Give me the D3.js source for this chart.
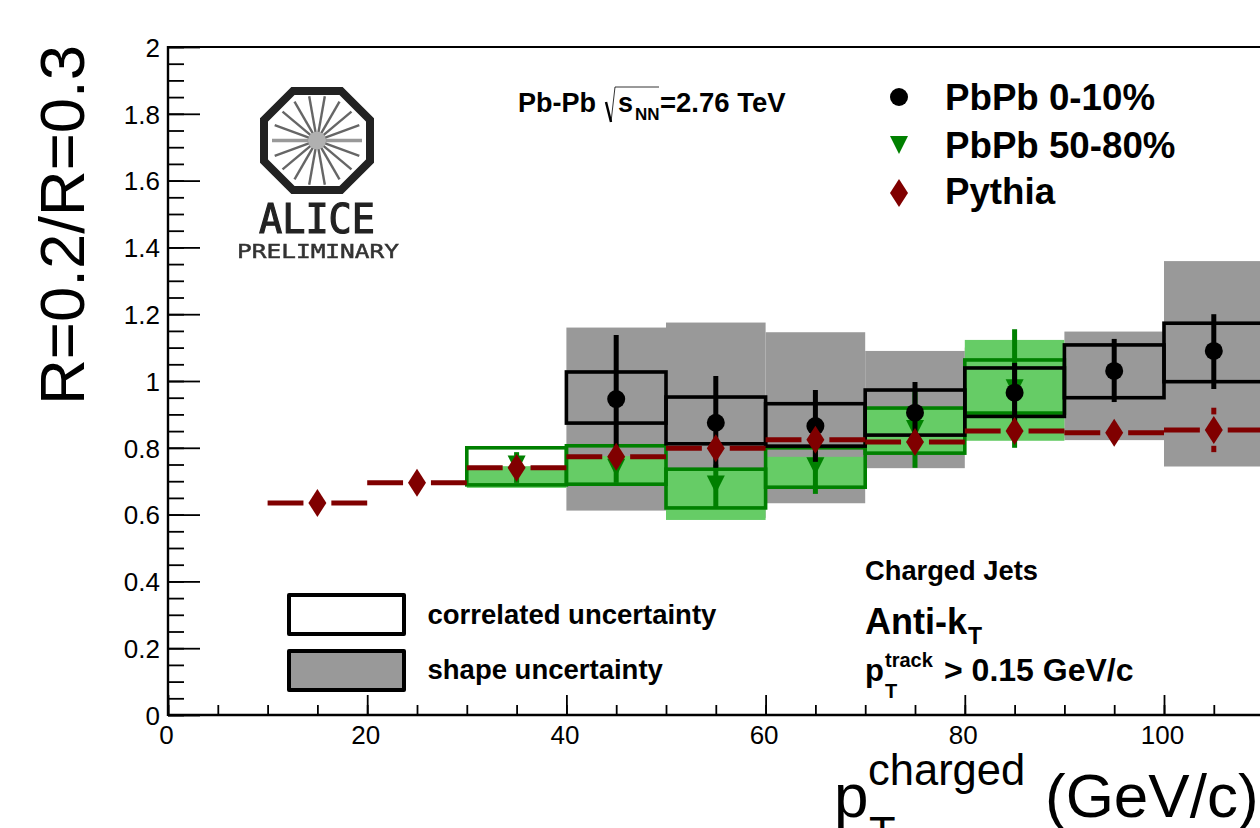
<!DOCTYPE html>
<html>
<head>
<meta charset="utf-8">
<script src="https://cdn.jsdelivr.net/npm/d3@7"></script>
<style>
  html, body { margin: 0; padding: 0; background: #fff; overflow: hidden; }
  text { font-family: "Liberation Sans", Arial, sans-serif; fill: #000; }
  .bold { font-weight: bold; }
</style>
</head>
<body>
<div id="chart"></div>
<script>
// R=0.2/R=0.3 values
const yTicks = [0, 0.2, 0.4, 0.6, 0.8, 1, 1.2, 1.4, 1.6, 1.8, 2];
const xTicks = [0, 20, 40, 60, 80, 100];

// PbPb 0-10%
const centralPt = [45, 55, 65, 75, 85, 95, 105];
const centralVal = [0.946, 0.875, 0.865, 0.905, 0.965, 1.03, 1.09];
const centralStatHi = [1.138, 1.015, 0.973, 0.997, 1.054, 1.126, 1.2];
const centralStatLo = [0.755, 0.74, 0.758, 0.813, 0.875, 0.937, 0.976];
const centralCorrHi = [1.027, 0.952, 0.932, 0.973, 1.039, 1.108, 1.173];
const centralCorrLo = [0.874, 0.812, 0.805, 0.838, 0.894, 0.95, 0.998];
const centralShapeHi = [1.16, 1.175, 1.146, 1.09, 1.1, 1.148, 1.359];
const centralShapeLo = [0.612, 0.59, 0.634, 0.739, 0.83, 0.823, 0.744];

// PbPb 50-80%
const periphPt = [35, 45, 55, 65, 75, 85];
const periphVal = [0.75, 0.74, 0.69, 0.745, 0.856, 0.978];
const periphStatHi = [0.787, 0.79, 0.75, 0.828, 0.97, 1.155];
const periphStatLo = [0.695, 0.695, 0.62, 0.662, 0.74, 0.8];
const periphCorrHi = [0.8, 0.806, 0.736, 0.8, 0.919, 1.063];
const periphCorrLo = [0.689, 0.691, 0.62, 0.682, 0.784, 0.904];
const periphShapeHi = [0.745, 0.775, 0.736, 0.773, 0.919, 1.123];
const periphShapeLo = [0.68, 0.693, 0.584, 0.683, 0.785, 0.821];

// Pythia
const pythiaPt = [15, 25, 35, 45, 55, 65, 75, 85, 95, 105];
const pythiaVal = [0.635, 0.695, 0.74, 0.773, 0.799, 0.824, 0.817, 0.85, 0.845, 0.853];
const pythiaStatHi = [0.65, 0.71, 0.76, 0.79, 0.815, 0.84, 0.835, 0.87, 0.87, 0.92];
const pythiaStatLo = [0.62, 0.68, 0.72, 0.755, 0.785, 0.81, 0.8, 0.83, 0.82, 0.787];

const binHalf = 5;
const markerGapX = 1.4; // the horizontal bar stops short of the marker
const markerGapY = 0.047; // same for the vertical bar

const BLACK = "#000000";
const GREEN = "#008000";
const GREEN_FILL = "#66cc66";
const GRAY_FILL = "#999999";
const RED = "#800000";
const TICK_FONT = '"Liberation Sans", Arial, sans-serif';

const svg = d3.select("#chart").append("svg")
  .attr("width", 1260)
  .attr("height", 828);

const x = d3.scaleLinear().domain([0, 110]).range([168, 1263.6]);
const y = d3.scaleLinear().domain([0, 2]).range([715, 47]);

const circle = d3.symbol().type(d3.symbolCircle).size(Math.PI * 81);
const triangleDown = "M-9,-9L9,-9L0,9Z";
const diamond = "M0,-14L9,0L0,14L-9,0Z";

// ----- boxes and points, back to front

function drawBins(pts, hi, lo) {
  return svg.append("g").selectAll("rect")
    .data(pts)
    .join("rect")
    .attr("x", (d) => x(d - binHalf))
    .attr("width", (d) => x(d + binHalf) - x(d - binHalf))
    .attr("y", (d, i) => y(hi[i]))
    .attr("height", (d, i) => y(lo[i]) - y(hi[i]));
}

function drawFilled(pts, hi, lo, fill) {
  drawBins(pts, hi, lo).attr("fill", fill);
}

function drawOpen(pts, hi, lo, color) {
  drawBins(pts, hi, lo)
    .attr("fill", "none")
    .attr("stroke", color)
    .attr("stroke-width", 3.6);
}

function drawErrors(pts, hi, lo, color) {
  svg.append("g").selectAll("line")
    .data(pts)
    .join("line")
    .attr("x1", (d) => x(d))
    .attr("x2", (d) => x(d))
    .attr("y1", (d, i) => y(hi[i]))
    .attr("y2", (d, i) => y(lo[i]))
    .attr("stroke", color)
    .attr("stroke-width", 5);
}

function drawMarkers(pts, vals, path, color) {
  svg.append("g").selectAll("path")
    .data(pts)
    .join("path")
    .attr("transform", (d, i) => `translate(${x(d)},${y(vals[i])})`)
    .attr("d", path)
    .attr("fill", color);
}

drawFilled(centralPt, centralShapeHi, centralShapeLo, GRAY_FILL);
drawFilled(periphPt, periphShapeHi, periphShapeLo, GREEN_FILL);
drawOpen(periphPt, periphCorrHi, periphCorrLo, GREEN);
drawErrors(periphPt, periphStatHi, periphStatLo, GREEN);
drawMarkers(periphPt, periphVal, triangleDown, GREEN);
drawOpen(centralPt, centralCorrHi, centralCorrLo, BLACK);
drawErrors(centralPt, centralStatHi, centralStatLo, BLACK);
drawMarkers(centralPt, centralVal, circle, BLACK);

// Pythia: bars broken around the diamond
const pythiaBars = svg.append("g")
  .attr("stroke", RED)
  .attr("stroke-width", 5);
pythiaPt.forEach((pt, i) => {
  [[pt - binHalf, pt - markerGapX], [pt + markerGapX, pt + binHalf]].forEach((seg) => {
    pythiaBars.append("line")
      .attr("x1", x(seg[0]))
      .attr("x2", x(seg[1]))
      .attr("y1", y(pythiaVal[i]))
      .attr("y2", y(pythiaVal[i]));
  });
  [[pythiaStatHi[i], pythiaVal[i] + markerGapY], [pythiaVal[i] - markerGapY, pythiaStatLo[i]]].forEach((seg) => {
    if (seg[0] <= seg[1]) return; // short bars stay hidden behind the diamond
    pythiaBars.append("line")
      .attr("x1", x(pt))
      .attr("x2", x(pt))
      .attr("y1", y(seg[0]))
      .attr("y2", y(seg[1]));
  });
});
drawMarkers(pythiaPt, pythiaVal, diamond, RED);

// ----- axes

function styleAxis(g, width) {
  g.select(".domain").remove();
  g.selectAll("line").attr("stroke", "#000").attr("stroke-width", width);
}

svg.append("g")
  .attr("transform", `translate(${x(0)},0)`)
  .call(d3.axisLeft(y).tickValues(d3.range(0, 2.001, 0.05)).tickSize(-16).tickFormat(""))
  .call(styleAxis, 1.8);
svg.append("g")
  .attr("transform", `translate(${x(0)},0)`)
  .call(d3.axisLeft(y).tickValues(yTicks).tickSize(-32).tickFormat(d3.format("")))
  .call(styleAxis, 1.8)
  .call((g) => g.selectAll("text")
    .attr("x", -8)
    .attr("dy", "0.36em")
    .style("font-size", "26px")
    .style("font-family", TICK_FONT));

svg.append("g")
  .attr("transform", `translate(0,${y(0)})`)
  .call(d3.axisBottom(x).tickValues(d3.range(0, 111, 5)).tickSize(-10).tickFormat(""))
  .call(styleAxis, 1.8);
svg.append("g")
  .attr("transform", `translate(0,${y(0)})`)
  .call(d3.axisBottom(x).tickValues(xTicks).tickSize(-20).tickFormat(d3.format("")))
  .call(styleAxis, 1.8)
  .call((g) => g.selectAll("text")
    .attr("y", 29)
    .attr("dy", 0)
    .attr("dx", -2)
    .style("font-size", "26px")
    .style("font-family", TICK_FONT));

// frame: left and bottom are heavier than the top line
svg.append("line").attr("x1", x(0)).attr("x2", x(0)).attr("y1", y(2) - 1).attr("y2", y(0) + 1)
  .attr("stroke", "#000").attr("stroke-width", 2.4);
svg.append("line").attr("x1", x(0)).attr("x2", 1260).attr("y1", y(0)).attr("y2", y(0))
  .attr("stroke", "#000").attr("stroke-width", 2.4);
svg.append("line").attr("x1", x(0)).attr("x2", 1260).attr("y1", y(2)).attr("y2", y(2))
  .attr("stroke", "#000").attr("stroke-width", 2);

// ----- titles

function label(px, py, str, size, bold) {
  return svg.append("text")
    .attr("x", px)
    .attr("y", py)
    .attr("class", bold ? "bold" : null)
    .style("font-size", size + "px")
    .text(str);
}

svg.append("text")
  .attr("transform", "translate(84,405) rotate(-90)")
  .style("font-size", "63.5px")
  .text("R=0.2/R=0.3");

label(834, 817, "p", 62);
label(868, 785, "charged", 43.5);
label(869, 848, "T", 43.5);
label(1045, 817, "(GeV/c)", 62);

// ----- top legend

const legendNames = ["PbPb 0-10%", "PbPb 50-80%", "Pythia"];
const legendPaths = [circle, triangleDown, diamond];
const legendColors = [BLACK, GREEN, RED];
const legendY = [97, 145, 193];
const legendBase = [110, 158, 204];

legendNames.forEach((name, i) => {
  svg.append("path")
    .attr("transform", `translate(899,${legendY[i]})`)
    .attr("d", legendPaths[i])
    .attr("fill", legendColors[i]);
  label(945, legendBase[i], name, 36.7, true);
});

// ----- box legend

const boxLegendNames = ["correlated uncertainty", "shape uncertainty"];
const boxLegendFill = ["#ffffff", GRAY_FILL];
const boxLegendY = [595, 651];
const boxLegendBase = [624, 679];

boxLegendNames.forEach((name, i) => {
  svg.append("rect")
    .attr("x", 289)
    .attr("y", boxLegendY[i])
    .attr("width", 115)
    .attr("height", 39)
    .attr("fill", boxLegendFill[i])
    .attr("stroke", "#000")
    .attr("stroke-width", 4)
    .attr("stroke-linejoin", "round");
  label(427.5, boxLegendBase[i], name, 27.5, true);
});

// ----- annotations

label(518, 112, "Pb-Pb", 27, true);
svg.append("path")
  .attr("d", "M611,122L615,87L659,87")
  .attr("fill", "none")
  .attr("stroke", "#000")
  .attr("stroke-width", 0.8);
svg.append("path")
  .attr("d", "M606,102L611,122")
  .attr("fill", "none")
  .attr("stroke", "#000")
  .attr("stroke-width", 2.4);
label(618, 112, "s", 27, true);
label(635, 120, "NN", 17, true);
label(660, 112, "=2.76 TeV", 27.5, true);

label(865, 580, "Charged Jets", 27.3, true);
label(865, 634, "Anti-k", 36, true);
label(968, 644, "T", 23, true);
label(865, 681, "p", 31, true);
label(885, 667, "track", 20, true);
label(885, 698, "T", 20, true);
label(944, 681, "> 0.15 GeV/c", 32, true);

// ----- ALICE logo

svg.append("defs").append("filter").attr("id", "soft")
  .append("feGaussianBlur").attr("stdDeviation", 0.6);
const logo = svg.append("g").attr("filter", "url(#soft)");

const rayAngles = d3.range(0, 360, 20);
logo.selectAll("line")
  .data(rayAngles)
  .join("line")
  .attr("x1", (a) => 317 + 8 * Math.cos((a * Math.PI) / 180))
  .attr("y1", (a) => 140.5 + 8 * Math.sin((a * Math.PI) / 180))
  .attr("x2", (a) => 317 + 45 * Math.cos((a * Math.PI) / 180))
  .attr("y2", (a) => 140.5 + 45 * Math.sin((a * Math.PI) / 180))
  .attr("stroke", (a) => (a % 180 === 0 ? "#999" : "#666"))
  .attr("stroke-width", (a) => (a % 180 === 0 ? 3.6 : 2.4));
logo.append("circle").attr("cx", 317).attr("cy", 140.5).attr("r", 9).attr("fill", "#b0b0b0");
logo.append("path")
  .attr("d", "M293,91L341,91L370,120L370,161L341,190L293,190L264,161L264,120Z")
  .attr("fill", "none")
  .attr("stroke", "#222")
  .attr("stroke-width", 8);
logo.append("text")
  .attr("x", 259)
  .attr("y", 233)
  .attr("textLength", 116)
  .attr("lengthAdjust", "spacingAndGlyphs")
  .style("font-family", '"DejaVu Sans Mono", monospace')
  .style("font-size", "40px")
  .style("fill", "#222")
  .style("stroke", "#222")
  .style("stroke-width", 1.2)
  .text("ALICE");
logo.append("text")
  .attr("x", 237)
  .attr("y", 258)
  .attr("textLength", 162)
  .attr("lengthAdjust", "spacingAndGlyphs")
  .style("font-family", '"DejaVu Sans Mono", monospace')
  .style("font-size", "20px")
  .style("fill", "#333")
  .style("stroke", "#333")
  .style("stroke-width", 0.5)
  .text("PRELIMINARY");
</script>
</body>
</html>
